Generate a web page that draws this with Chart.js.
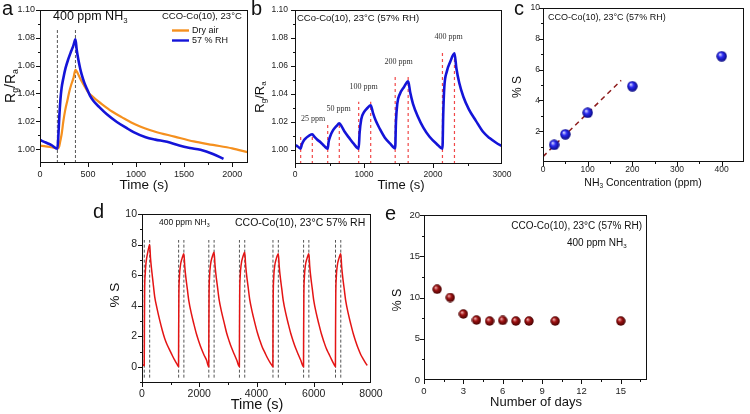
<!DOCTYPE html>
<html>
<head>
<meta charset="utf-8">
<script src="https://cdn.jsdelivr.net/npm/chart.js@4/dist/chart.umd.min.js"></script>
<style>
  body { margin: 0; width: 750px; height: 414px; background: #fff; position: relative; overflow: hidden; }
  canvas { position: absolute; }
  .tag { position: absolute; font: 20px/20px "Liberation Sans", Arial, sans-serif; color: #111; z-index: 2; }
</style>
</head>
<body>
<canvas id="chartA" width="250" height="200" style="left:0;top:0"></canvas>
<canvas id="chartB" width="262" height="200" style="left:250px;top:0"></canvas>
<canvas id="chartC" width="238" height="200" style="left:512px;top:0"></canvas>
<canvas id="chartD" width="296" height="214" style="left:90px;top:200px"></canvas>
<canvas id="chartE" width="294" height="214" style="left:386px;top:200px"></canvas>
<div class="tag" style="left:2px;top:-2px">a</div>
<div class="tag" style="left:251px;top:-2px">b</div>
<div class="tag" style="left:514px;top:-2px">c</div>
<div class="tag" style="left:93px;top:201px">d</div>
<div class="tag" style="left:385px;top:203px">e</div>
<script>
// ---- (a) 400 ppm NH3, [time s, Rg/Ra]
const aDryAir = [[0,1.0025],[60,1.002],[120,1.0013],[185,1.0005],[200,1.002],[212,1.006],[226,1.011],[243,1.020],
  [261,1.0275],[285,1.035],[306,1.0416],[328,1.047],[348,1.051],[369,1.057],[385,1.0555],[410,1.052],[440,1.048],
  [470,1.0445],[500,1.041],[560,1.037],[650,1.032],[750,1.027],[850,1.023],[1000,1.0175],[1200,1.0125],[1400,1.009],
  [1600,1.0055],[1800,1.003],[2000,1.0005],[2160,0.9978]];
const aHumid = [[0,1.0065],[60,1.0047],[120,1.0028],[181,1.0002],[190,1.008],[200,1.022],[212,1.035],[225,1.044],
  [243,1.051],[265,1.058],[296,1.065],[325,1.0705],[348,1.0746],[369,1.079],[382,1.0715],[400,1.064],[418,1.058],
  [435,1.0534],[460,1.048],[487,1.0435],[520,1.0385],[557,1.0346],[620,1.030],[696,1.025],[800,1.0195],[900,1.0152],
  [974,1.0122],[1100,1.0085],[1200,1.0068],[1322,1.0052],[1450,1.0025],[1560,1.0008],[1670,0.9995],[1800,0.9965],[1910,0.993]];
const aGasSwitch = [181, 369];
const aXTicks = [0, 500, 1000, 1500, 2000];
const aXMinor = [250, 750, 1250, 1750];
const aYTicks = [1.00, 1.02, 1.04, 1.06, 1.08, 1.10];
const aYMinor = [0.99, 1.01, 1.03, 1.05, 1.07, 1.09];

// ---- (b) concentration steps, [time s, Rg/Ra]
const bTrace = [[0,1.0035],[40,1.0025],[82,1.001],[100,1.004],[130,1.007],[170,1.009],[210,1.0105],[251,1.0112],
  [280,1.0095],[320,1.0075],[370,1.0055],[420,1.003],[474,1.001],[488,1.006],[512,1.010],[550,1.014],[600,1.017],[642,1.019],
  [680,1.0165],[720,1.013],[780,1.009],[850,1.0045],[923,1.001],[936,1.012],[960,1.022],[1000,1.027],[1050,1.030],[1097,1.032],
  [1130,1.0265],[1170,1.021],[1230,1.015],[1300,1.009],[1380,1.0045],[1452,1.0012],[1463,1.02],[1482,1.033],[1520,1.040],
  [1580,1.045],[1640,1.049],[1670,1.041],[1710,1.033],[1780,1.024],[1860,1.016],[1950,1.0095],[2050,1.0045],[2137,1.001],
  [2148,1.025],[2164,1.045],[2200,1.056],[2250,1.063],[2311,1.069],[2340,1.058],[2380,1.048],[2440,1.038],[2520,1.029],
  [2620,1.021],[2725,1.013],[2820,1.0085],[2920,1.005],[3000,1.0027]];
const bGasOn = [82, 474, 923, 1452, 2137];
const bGasOff = [251, 642, 1097, 1640, 2311];
const bMarkTop = [1.0115, 1.019, 1.0345, 1.0525, 1.0705];
const bConc = ['25 ppm', '50 ppm', '100 ppm', '200 ppm', '400 ppm'];
const bXTicks = [0, 1000, 2000, 3000];
const bXMinor = [500, 1500, 2500];

// ---- (c) response vs concentration
const cConc = [25, 50, 100, 200, 400];
const cResponse = [1.12, 1.8, 3.2, 4.92, 6.87];
const cFit = [[0, 0.35], [175, 5.3]];
const cXTicks = [0, 100, 200, 300, 400];
const cXMinor = [50, 150, 250, 350];
const cYTicks = [2, 4, 6, 8, 10];
const cYMinor = [1, 3, 5, 7, 9];

// ---- (d) repeated cycles, [time s, % S]
const dTrace = [[0,0.1],[40,0.12],[78,0.1],[84,2.5],[92,5.0],[110,6.0],[140,6.8],[190,7.4],[235,7.8],[268,8.0],
  [298,7.1],[328,6.5],[388,5.5],[443,4.6],[528,3.8],[618,3.06],[708,2.4],[793,1.86],[878,1.45],[968,1.1],[1058,0.75],
  [1143,0.44],[1218,0.2],[1276,0.03],
  [1281,2.4],[1288,4.6],[1305,5.8],[1340,6.6],[1400,7.1],[1463,7.4],
  [1493,6.6],[1523,6.0],[1583,5.1],[1638,4.3],[1723,3.5],[1813,2.8],[1903,2.15],[1988,1.65],[2073,1.2],[2163,0.8],
  [2253,0.45],[2331,0.02],
  [2336,2.4],[2343,4.7],[2360,5.9],[2395,6.7],[2455,7.2],[2519,7.5],
  [2549,6.7],[2579,6.1],[2639,5.2],[2694,4.4],[2779,3.6],[2869,2.9],[2959,2.2],[3044,1.7],[3129,1.25],[3219,0.85],
  [3309,0.45],[3401,0.02],
  [3406,2.4],[3413,4.7],[3430,5.9],[3465,6.7],[3525,7.2],[3589,7.5],
  [3619,6.7],[3649,6.1],[3709,5.2],[3764,4.4],[3849,3.6],[3939,2.9],[4029,2.25],[4114,1.75],[4199,1.3],[4289,0.95],
  [4379,0.6],[4470,0.3],[4540,0.1],[4572,0.02],
  [4577,2.4],[4584,4.6],[4601,5.8],[4636,6.6],[4696,7.1],[4763,7.4],
  [4793,6.6],[4823,6.0],[4883,5.1],[4938,4.3],[5023,3.5],[5113,2.8],[5203,2.15],[5288,1.65],[5373,1.2],[5463,0.8],
  [5553,0.4],[5642,0.02],
  [5647,2.4],[5654,4.6],[5671,5.8],[5706,6.6],[5766,7.1],[5829,7.4],
  [5859,6.6],[5889,6.0],[5949,5.1],[6004,4.3],[6089,3.5],[6179,2.8],[6269,2.15],[6354,1.65],[6439,1.2],[6529,0.85],
  [6619,0.5],[6700,0.2],[6757,0.02],
  [6762,2.4],[6769,4.6],[6786,5.8],[6821,6.6],[6881,7.1],[6944,7.4],
  [6974,6.6],[7004,6.0],[7064,5.1],[7119,4.3],[7204,3.5],[7294,2.8],[7384,2.15],[7469,1.65],[7554,1.2],[7644,0.8],
  [7734,0.5],[7830,0.2],[7870,0.1]];
const dGasOn = [80, 1279, 2334, 3404, 4575, 5645, 6760];
const dGasOff = [268, 1463, 2519, 3589, 4763, 5829, 6944];
const dXTicks = [0, 2000, 4000, 6000, 8000];
const dXMinor = [1000, 3000, 5000, 7000];
const dYTicks = [0, 2, 4, 6, 8, 10];
const dYMinor = [-1, 1, 3, 5, 7, 9];

// ---- (e) stability over days
const eDays = [1, 2, 3, 4, 5, 6, 7, 8, 10, 15];
const eResponse = [11.0, 10.0, 8.0, 7.27, 7.15, 7.22, 7.15, 7.15, 7.15, 7.15];
const eXTicks = [0, 3, 6, 9, 12, 15];
const eXMinor = [1.5, 4.5, 7.5, 10.5, 13.5, 16.5];
const eYTicks = [0, 5, 10, 15, 20];
const eYMinor = [2.5, 7.5, 12.5, 17.5];

const FONT = '"Liberation Sans", Arial, sans-serif';
const SERIF = '"Liberation Serif", "Times New Roman", serif';
Chart.defaults.font.family = FONT;
Chart.defaults.color = '#222';

const xy = pts => pts.map(([x, y]) => ({x, y}));
const curve = (pts, color, width) => ({
  data: xy(pts), showLine: true, borderColor: color, borderWidth: width,
  pointRadius: 0, cubicInterpolationMode: 'monotone', fill: false
});
const vline = (t, y0, y1, color, width, dash) => ({
  data: [{x: t, y: y0}, {x: t, y: y1}], showLine: true,
  borderColor: color, borderWidth: width, borderDash: dash, pointRadius: 0
});
const dots = (xs, ys, img) => ({
  data: xs.map((x, i) => ({x, y: ys[i]})), showLine: false, pointStyle: img, pointRadius: 5
});

// shaded ball used as marker
function sphere(size, light, mid, dark) {
  const c = document.createElement('canvas');
  c.width = c.height = size;
  const g = c.getContext('2d'), r = size / 2;
  const gr = g.createRadialGradient(r * 0.7, r * 0.65, 0.3, r, r, r);
  gr.addColorStop(0, light);
  gr.addColorStop(0.4, mid);
  gr.addColorStop(1, dark);
  g.fillStyle = gr;
  g.beginPath(); g.arc(r, r, r - 0.3, 0, Math.PI * 2); g.fill();
  return c;
}
const blueBall = sphere(11, '#d8d8ff', '#2b2bf2', '#06067a');
const redBall = sphere(10, '#f0b0b0', '#a01212', '#3c0000');

// text with subscripts: parts = [[text, isSub], ...]
function rich(ctx, parts, x, y, size, align, family) {
  const fam = family || FONT, sub = size * 0.62;
  let w = 0;
  parts.forEach(([t, s]) => { ctx.font = (s ? sub : size) + 'px ' + fam; w += ctx.measureText(t).width; });
  let cx = align === 'center' ? x - w / 2 : align === 'right' ? x - w : x;
  ctx.textAlign = 'left';
  ctx.textBaseline = 'middle';
  parts.forEach(([t, s]) => {
    ctx.font = (s ? sub : size) + 'px ' + fam;
    ctx.fillText(t, cx, s ? y + size * 0.32 : y);
    cx += ctx.measureText(t).width;
  });
}
function vrich(ctx, parts, x, y, size) {
  ctx.save();
  ctx.translate(x, y);
  ctx.rotate(-Math.PI / 2);
  rich(ctx, parts, 0, 0, size, 'center');
  ctx.restore();
}

function axis(a, size, horiz) {
  return {
    type: 'linear', min: a.min, max: a.max,
    afterBuildTicks: s => { s.ticks = a.ticks.map(value => ({value})); },
    afterFit: s => {
      if (horiz) { s.height = size; s.paddingLeft = 0; s.paddingRight = 0; }
      else { s.width = size; s.paddingTop = 0; s.paddingBottom = 0; }
    },
    grid: {display: false, drawTicks: false},
    border: {display: false},
    ticks: {
      font: {size: a.fs}, color: '#222', padding: a.pad, maxRotation: 0, minRotation: 0,
      autoSkip: false, callback: a.fmt || (v => v)
    }
  };
}

// box, tick marks, titles and notes
function frame(spec) {
  return {
    id: 'frame',
    afterDraw(chart) {
      const ctx = chart.ctx, {left, right, top, bottom} = chart.chartArea;
      const xs = chart.scales.x, ys = chart.scales.y;
      ctx.save();
      ctx.strokeStyle = '#111';
      ctx.lineWidth = 1;
      ctx.strokeRect(left + 0.5, top + 0.5, right - left - 1, bottom - top - 1);
      ctx.beginPath();
      const xt = (list, len) => list.forEach(v => {
        const p = Math.round(xs.getPixelForValue(v)) + 0.5;
        if (p < left || p > right) return;
        ctx.moveTo(p, bottom); ctx.lineTo(p, bottom + len);
      });
      const yt = (list, len) => list.forEach(v => {
        const p = Math.round(ys.getPixelForValue(v)) + 0.5;
        if (p < top || p > bottom) return;
        ctx.moveTo(left, p); ctx.lineTo(left - len, p);
      });
      xt(spec.x.ticks, 4); xt(spec.x.minor, 2);
      yt(spec.y.ticks, 4); yt(spec.y.minor, 2);
      ctx.stroke();
      ctx.fillStyle = '#111';
      spec.draw(ctx, chart);
      ctx.restore();
    }
  };
}

function panel(id, spec) {
  return new Chart(document.getElementById(id), {
    type: 'scatter',
    data: {datasets: spec.datasets},
    options: {
      responsive: false, animation: false, events: [],
      layout: {padding: {top: spec.pad[0], right: spec.pad[1], left: 0, bottom: 0}},
      plugins: {legend: {display: false}, tooltip: {enabled: false}},
      scales: {x: axis(spec.x, spec.xh, true), y: axis(spec.y, spec.yw, false)}
    },
    plugins: [frame(spec)]
  });
}

const RATIO = [['R', 0], ['g', 1], ['/R', 0], ['a', 1]];
const NH3 = [['NH', 0], ['3', 1]];

// a
panel('chartA', {
  pad: [10, 2], yw: 40, xh: 37,
  x: {min: 0, max: 2165, ticks: aXTicks, minor: aXMinor, fs: 9, pad: 6},
  y: {min: 0.99, max: 1.10, ticks: aYTicks, minor: aYMinor, fs: 9, pad: 5, fmt: v => v.toFixed(2)},
  datasets: [
    curve(aHumid, '#1414d8', 2.6),
    curve(aDryAir, '#f5901e', 2.2),
    ...aGasSwitch.map(t => vline(t, 0.99, 1.0856, '#555', 1, [3, 2]))
  ],
  draw(ctx) {
    rich(ctx, [['400 ppm ', 0], ...NH3], 53, 17, 12.5, 'left');
    rich(ctx, [['CCO-Co(10), 23°C', 0]], 162, 16, 9.5, 'left');
    ctx.lineWidth = 2.4;
    ctx.strokeStyle = '#f5901e';
    ctx.beginPath(); ctx.moveTo(172, 30.5); ctx.lineTo(189, 30.5); ctx.stroke();
    ctx.strokeStyle = '#1414d8';
    ctx.beginPath(); ctx.moveTo(172, 40.5); ctx.lineTo(189, 40.5); ctx.stroke();
    rich(ctx, [['Dry air', 0]], 192, 30.5, 9, 'left');
    rich(ctx, [['57 % RH', 0]], 192, 40.5, 9, 'left');
    rich(ctx, [['Time (s)', 0]], 144, 185, 13.5, 'center');
    vrich(ctx, RATIO, 11, 86, 14);
  }
});

// b
panel('chartB', {
  pad: [10, 10], yw: 45, xh: 36,
  x: {min: 0, max: 3000, ticks: bXTicks, minor: bXMinor, fs: 8.5, pad: 6},
  y: {min: 0.99, max: 1.10, ticks: aYTicks, minor: aYMinor, fs: 8.5, pad: 7, fmt: v => v.toFixed(2)},
  datasets: [
    curve(bTrace, '#1414d8', 2.6),
    ...bGasOn.map((t, i) => vline(t, 0.99, bMarkTop[i], '#f04848', 1.2, [3, 3])),
    ...bGasOff.map((t, i) => vline(t, 0.99, bMarkTop[i], '#f04848', 1.2, [3, 3]))
  ],
  draw(ctx, chart) {
    const xs = chart.scales.x, ys = chart.scales.y;
    const labelAt = [261, 633, 995, 1502, 2227];
    ctx.fillStyle = '#333';
    bConc.forEach((c, i) => {
      rich(ctx, [[c, 0]], xs.getPixelForValue(labelAt[i]), ys.getPixelForValue(bMarkTop[i] + 0.0105), 8, 'center', SERIF);
    });
    ctx.fillStyle = '#111';
    rich(ctx, [['CCo-Co(10), 23°C (57% RH)', 0]], 47, 18, 9.5, 'left');
    rich(ctx, [['Time (s)', 0]], 151, 185, 13, 'center');
    vrich(ctx, RATIO, 10, 97, 13);
  }
});

// c
panel('chartC', {
  pad: [8, 1], yw: 31, xh: 38,
  x: {min: 0, max: 450, ticks: cXTicks, minor: cXMinor, fs: 8.5, pad: 3},
  y: {min: 0, max: 10, ticks: cYTicks, minor: cYMinor, fs: 8.5, pad: 3},
  datasets: [
    dots(cConc, cResponse, blueBall),
    {data: xy(cFit), showLine: true, borderColor: '#8e1c1c', borderWidth: 1.5, borderDash: [5, 4], pointRadius: 0}
  ],
  draw(ctx) {
    rich(ctx, [['CCO-Co(10), 23°C (57% RH)', 0]], 36, 18, 9, 'left');
    rich(ctx, [['NH', 0], ['3', 1], [' Concentration (ppm)', 0]], 131, 183, 10.5, 'center');
    vrich(ctx, [['% S', 0]], 6, 87, 12);
  }
});

// d
panel('chartD', {
  pad: [14, 15], yw: 52, xh: 31,
  x: {min: 0, max: 8000, ticks: dXTicks, minor: dXMinor, fs: 10.5, pad: 5},
  y: {min: -1.05, max: 10, ticks: dYTicks, minor: dYMinor, fs: 10.5, pad: 5},
  datasets: [
    curve(dTrace, '#e41414', 1.5),
    ...dGasOn.map(t => vline(t, -0.7, 8.3, '#555', 1, [3, 2])),
    ...dGasOff.map(t => vline(t, -0.7, 8.3, '#555', 1, [3, 2]))
  ],
  draw(ctx) {
    rich(ctx, [['400 ppm ', 0], ...NH3], 69, 23, 8.5, 'left');
    rich(ctx, [['CCO-Co(10), 23°C 57% RH', 0]], 145, 23, 10.5, 'left');
    rich(ctx, [['Time (s)', 0]], 167, 205, 14.5, 'center');
    vrich(ctx, [['% S', 0]], 25, 95, 13.5);
  }
});

// e
panel('chartE', {
  pad: [15, 33], yw: 38, xh: 34,
  x: {min: 0, max: 17, ticks: eXTicks, minor: eXMinor, fs: 9.5, pad: 6},
  y: {min: 0, max: 20, ticks: eYTicks, minor: eYMinor, fs: 9.5, pad: 4},
  datasets: [dots(eDays, eResponse, redBall)],
  draw(ctx) {
    rich(ctx, [['CCO-Co(10), 23°C (57% RH)', 0]], 256, 26, 10, 'right');
    rich(ctx, [['400 ppm ', 0], ...NH3], 181, 43, 10, 'left');
    rich(ctx, [['Number of days', 0]], 150, 202, 13, 'center');
    vrich(ctx, [['% S', 0]], 12, 100, 12.5);
  }
});
</script>
</body>
</html>
